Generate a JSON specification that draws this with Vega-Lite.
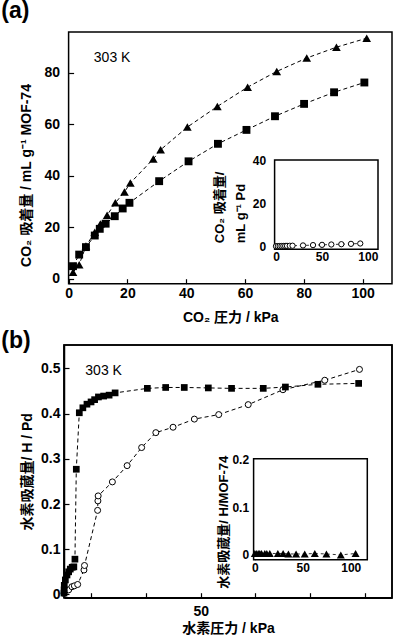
{
  "$schema": "https://vega.github.io/schema/vega-lite/v6.json",
  "padding": 0,
  "spacing": 4,
  "config": {
    "font": "Liberation Sans, Noto Sans CJK JP, sans-serif",
    "view": {"stroke": null},
    "axis": {"grid": false, "domain": false, "tickColor": "black", "tickSize": -5, "tickWidth": 1.2, "labelColor": "black", "titleColor": "black", "labelFontWeight": "bold", "titleFontWeight": "bold", "labelFontSize": 14, "titleFontSize": 14, "labelFlush": false, "labelOverlap": false},
    "title": {"color": "black", "fontWeight": "bold", "fontSize": 23}
  },
  "datasets": {
    "co2_tri": [
      {"p": 1.5, "v": 2.5}, {"p": 3.6, "v": 5.5}, {"p": 5.9, "v": 12.7}, {"p": 8.9, "v": 18.1}, {"p": 10.8, "v": 21.3}, {"p": 13.1, "v": 24.7}, {"p": 15.9, "v": 29.5}, {"p": 19.0, "v": 33.7}, {"p": 21.0, "v": 37.2}, {"p": 28.8, "v": 46.5}, {"p": 31.3, "v": 50.1}, {"p": 40.4, "v": 58.9}, {"p": 50.6, "v": 66.9}, {"p": 60.9, "v": 74.4}, {"p": 70.8, "v": 80.5}, {"p": 81.0, "v": 85.7}, {"p": 91.1, "v": 89.9}, {"p": 101.4, "v": 93.4}
    ],
    "co2_sq": [
      {"p": 1.5, "v": 4.9}, {"p": 3.6, "v": 9.4}, {"p": 5.9, "v": 12.3}, {"p": 8.9, "v": 16.8}, {"p": 10.6, "v": 19.4}, {"p": 12.6, "v": 21.4}, {"p": 15.7, "v": 24.3}, {"p": 18.4, "v": 27.3}, {"p": 20.7, "v": 29.5}, {"p": 30.8, "v": 37.9}, {"p": 40.8, "v": 45.6}, {"p": 50.8, "v": 52.4}, {"p": 60.5, "v": 57.8}, {"p": 70.2, "v": 63.1}, {"p": 80.1, "v": 67.9}, {"p": 90.3, "v": 72.4}, {"p": 100.6, "v": 76.2}
    ],
    "co2_pd": [
      {"p": 0, "v": 0}, {"p": 2, "v": 0.02}, {"p": 4, "v": 0.05}, {"p": 6, "v": 0.07}, {"p": 8, "v": 0.1}, {"p": 10, "v": 0.12}, {"p": 12, "v": 0.15}, {"p": 15, "v": 0.18}, {"p": 18, "v": 0.22}, {"p": 29.4, "v": 0.35}, {"p": 40.3, "v": 0.5}, {"p": 50.1, "v": 0.62}, {"p": 60.2, "v": 0.78}, {"p": 71.1, "v": 0.92}, {"p": 81.6, "v": 1.08}, {"p": 91.7, "v": 1.25}
    ],
    "h2_pd_a": [
      {"p": 0, "v": 0.003}, {"p": 0.05, "v": 0.01}, {"p": 0.1, "v": 0.02}, {"p": 0.5, "v": 0.032}, {"p": 1.1, "v": 0.043}, {"p": 1.7, "v": 0.05}, {"p": 2.3, "v": 0.056}, {"p": 3.0, "v": 0.06}, {"p": 3.6, "v": 0.061}, {"p": 4.0, "v": 0.078}, {"p": 4.5, "v": 0.277}, {"p": 5.6, "v": 0.402}, {"p": 6.9, "v": 0.413}, {"p": 8.4, "v": 0.421}, {"p": 9.9, "v": 0.426}, {"p": 11.2, "v": 0.431}, {"p": 12.6, "v": 0.437}, {"p": 14.5, "v": 0.439}, {"p": 16.5, "v": 0.441}, {"p": 18.7, "v": 0.446}, {"p": 30.5, "v": 0.456}, {"p": 37.2, "v": 0.458}, {"p": 44.0, "v": 0.458}, {"p": 52.8, "v": 0.457}, {"p": 61.3, "v": 0.456}, {"p": 72.9, "v": 0.456}, {"p": 81.0, "v": 0.459}, {"p": 92.9, "v": 0.465}, {"p": 107.8, "v": 0.467}
    ],
    "h2_pd_b": [
      {"p": 0, "v": 0.002}, {"p": 1.7, "v": 0.01}, {"p": 2.9, "v": 0.017}, {"p": 3.8, "v": 0.019}, {"p": 5.0, "v": 0.022}, {"p": 7.3, "v": 0.054}, {"p": 7.5, "v": 0.064}, {"p": 12.3, "v": 0.186}, {"p": 12.4, "v": 0.207}, {"p": 12.5, "v": 0.218}, {"p": 17.7, "v": 0.249}, {"p": 23.1, "v": 0.285}, {"p": 28.4, "v": 0.325}, {"p": 33.6, "v": 0.358}, {"p": 39.9, "v": 0.37}, {"p": 47.7, "v": 0.388}, {"p": 56.6, "v": 0.398}, {"p": 67.4, "v": 0.42}, {"p": 80.1, "v": 0.453}, {"p": 95.4, "v": 0.474}, {"p": 108.1, "v": 0.498}
    ],
    "h2_mof": [
      {"p": 0, "v": 0.003}, {"p": 1.5, "v": 0.003}, {"p": 3.5, "v": 0.003}, {"p": 5.2, "v": 0.003}, {"p": 7, "v": 0.003}, {"p": 10.4, "v": 0.003}, {"p": 12.5, "v": 0.003}, {"p": 15.6, "v": 0.003}, {"p": 24, "v": 0.003}, {"p": 29.5, "v": 0.003}, {"p": 35, "v": 0.002}, {"p": 43, "v": 0.002}, {"p": 52, "v": 0.002}, {"p": 62.5, "v": 0.003}, {"p": 74.6, "v": 0.002}, {"p": 89.6, "v": 0.0}, {"p": 105, "v": 0.003}
    ]
  },
  "vconcat": [
    {
      "width": 328,
      "height": 251.7,
      "title": {"text": "(a)", "anchor": "start", "frame": "group", "dx": -62.7, "offset": 8},
      "resolve": {"scale": {"x": "independent", "y": "independent"}},
      "layer": [
        {
          "layer": [
            {
              "data": {"values": [{"id": 1}]},
              "mark": {"type": "rect", "fill": "transparent", "stroke": "black", "strokeWidth": 1.5},
              "encoding": {
                "x": {"datum": 0, "type": "quantitative", "scale": {"domain": [0, 110], "range": [4.6, 328], "nice": false, "zero": false},
                  "axis": {"values": [0, 10, 20, 30, 40, 50, 60, 70, 80, 90, 100], "labelExpr": "datum.value % 20 === 0 ? datum.label : ''", "labelOverlap": false, "title": "CO₂ 圧力 / kPa", "labelPadding": 8, "titlePadding": 10}},
                "x2": {"datum": 110},
                "y": {"datum": -1.9, "type": "quantitative", "scale": {"domain": [-1.9, 95.8], "nice": false, "zero": false},
                  "axis": {"values": [0, 10, 20, 30, 40, 50, 60, 70, 80, 90], "labelExpr": "datum.value % 20 === 0 ? datum.label : ''", "labelOverlap": false, "title": "CO₂ 吸着量 / mL g⁻¹ MOF-74", "offset": -4.6, "labelPadding": 14, "titlePadding": 11, "titleY": 143}},
                "y2": {"datum": 95.8}
              }
            },
            {
              "data": {"name": "co2_tri"},
              "mark": {"type": "line", "color": "black", "strokeWidth": 1, "strokeDash": [4, 3]},
              "encoding": {
                "x": {"field": "p", "type": "quantitative", "scale": {"domain": [0, 110], "range": [4.6, 328], "nice": false, "zero": false}},
                "y": {"field": "v", "type": "quantitative", "scale": {"domain": [-1.9, 95.8], "nice": false, "zero": false}}
              }
            },
            {
              "data": {"name": "co2_sq"},
              "mark": {"type": "line", "color": "black", "strokeWidth": 1, "strokeDash": [4, 3]},
              "encoding": {
                "x": {"field": "p", "type": "quantitative", "scale": {"domain": [0, 110], "range": [4.6, 328], "nice": false, "zero": false}},
                "y": {"field": "v", "type": "quantitative", "scale": {"domain": [-1.9, 95.8], "nice": false, "zero": false}}
              }
            },
            {
              "data": {"name": "co2_tri"},
              "mark": {"type": "point", "shape": "triangle-up", "filled": true, "color": "black", "size": 75, "opacity": 1},
              "encoding": {
                "x": {"field": "p", "type": "quantitative", "scale": {"domain": [0, 110], "range": [4.6, 328], "nice": false, "zero": false}},
                "y": {"field": "v", "type": "quantitative", "scale": {"domain": [-1.9, 95.8], "nice": false, "zero": false}}
              }
            },
            {
              "data": {"name": "co2_sq"},
              "mark": {"type": "point", "shape": "square", "filled": true, "color": "black", "size": 62, "opacity": 1},
              "encoding": {
                "x": {"field": "p", "type": "quantitative", "scale": {"domain": [0, 110], "range": [4.6, 328], "nice": false, "zero": false}},
                "y": {"field": "v", "type": "quantitative", "scale": {"domain": [-1.9, 95.8], "nice": false, "zero": false}}
              }
            },
            {
              "data": {"values": [{"t": "303 K"}]},
              "mark": {"type": "text", "fontSize": 14, "color": "black", "align": "center", "baseline": "middle", "fontWeight": "normal"},
              "encoding": {
                "text": {"field": "t"},
                "x": {"datum": 14.8, "type": "quantitative", "scale": {"domain": [0, 110], "range": [4.6, 328], "nice": false, "zero": false}},
                "y": {"datum": 85.7, "type": "quantitative", "scale": {"domain": [-1.9, 95.8], "nice": false, "zero": false}}
              }
            }
          ]
        },
        {
          "layer": [
            {
              "data": {"values": [{"id": 1}]},
              "mark": {"type": "rect", "fill": "white", "stroke": "black", "strokeWidth": 1.5},
              "encoding": {
                "x": {"datum": -1.5, "type": "quantitative", "scale": {"domain": [-1.5, 111], "range": [210.6, 314], "nice": false, "zero": false},
                  "axis": {"orient": "bottom", "values": [0, 50, 100], "labelOverlap": false, "offset": -34.5, "title": null, "labelFontSize": 12, "labelPadding": 7}},
                "x2": {"datum": 111},
                "y": {"datum": -1.4, "type": "quantitative", "scale": {"domain": [-1.4, 40], "range": [217.2, 128], "nice": false, "zero": false},
                  "axis": {"orient": "left", "values": [0, 10, 20, 30, 40], "labelExpr": "datum.value % 20 === 0 ? datum.label : ''", "labelOverlap": false, "offset": -210.6, "labelFontSize": 12, "labelPadding": 14, "title": ["CO₂ 吸着量/", "mL g⁻¹ Pd"], "titleFontSize": 13, "titlePadding": 5, "titleAlign": "left", "titleY": 210.7, "titleLineHeight": 21}},
                "y2": {"datum": 40}
              }
            },
            {
              "data": {"name": "co2_pd"},
              "mark": {"type": "line", "color": "black", "strokeWidth": 0.8, "strokeDash": [3, 3]},
              "encoding": {
                "x": {"field": "p", "type": "quantitative", "scale": {"domain": [-1.5, 111], "range": [210.6, 314], "nice": false, "zero": false}},
                "y": {"field": "v", "type": "quantitative", "scale": {"domain": [-1.4, 40], "range": [217.2, 128], "nice": false, "zero": false}}
              }
            },
            {
              "data": {"name": "co2_pd"},
              "mark": {"type": "point", "shape": "circle", "filled": false, "color": "black", "fill": "white", "strokeWidth": 1, "size": 28, "opacity": 1},
              "encoding": {
                "x": {"field": "p", "type": "quantitative", "scale": {"domain": [-1.5, 111], "range": [210.6, 314], "nice": false, "zero": false}},
                "y": {"field": "v", "type": "quantitative", "scale": {"domain": [-1.4, 40], "range": [217.2, 128], "nice": false, "zero": false}}
              }
            }
          ]
        }
      ]
    },
    {
      "width": 328,
      "height": 252.7,
      "title": {"text": "(b)", "anchor": "start", "frame": "group", "dx": -62.7, "offset": -9},
      "view": {"stroke": "black", "strokeWidth": 1.5},
      "resolve": {"scale": {"x": "independent", "y": "independent"}},
      "layer": [
        {
          "layer": [
            {
              "data": {"values": [{"id": 2}]},
              "mark": {"type": "rect", "fill": "transparent", "stroke": "black", "strokeWidth": 1.5},
              "encoding": {
                "x": {"datum": 0, "type": "quantitative", "scale": {"domain": [0, 120], "range": [0, 328], "nice": false, "zero": false},
                  "axis": {"values": [50, 10, 100, 20, 30, 40, 60, 70, 80, 90, 110], "labelExpr": "datum.value % 50 === 0 ? datum.label : ''", "labelOverlap": false, "title": "水素圧力 / kPa", "labelPadding": 12, "titlePadding": 3, "domain": true, "domainColor": "black", "domainWidth": 1.5}},
                "x2": {"datum": 120},
                "y": {"datum": -0.0073, "type": "quantitative", "scale": {"domain": [-0.0073, 0.552], "range": [252.7, 0], "nice": false, "zero": false},
                  "axis": {"values": [0, 0.05, 0.1, 0.15, 0.2, 0.25, 0.3, 0.35, 0.4, 0.45, 0.5], "labelExpr": "datum.value == 0 ? '0' : (abs(datum.value * 10 - round(datum.value * 10)) < 0.001 ? format(datum.value, '.1f') : '')", "labelOverlap": false, "title": "水素吸蔵量/ H / Pd", "labelPadding": 9, "titlePadding": 6, "domain": true, "domainColor": "black", "domainWidth": 1.5}},
                "y2": {"datum": 0.552}
              }
            },
            {
              "data": {"name": "h2_pd_b"},
              "mark": {"type": "line", "color": "black", "strokeWidth": 1, "strokeDash": [4, 3]},
              "encoding": {
                "x": {"field": "p", "type": "quantitative", "scale": {"domain": [0, 120], "range": [0, 328], "nice": false, "zero": false}},
                "y": {"field": "v", "type": "quantitative", "scale": {"domain": [-0.0073, 0.552], "range": [252.7, 0], "nice": false, "zero": false}}
              }
            },
            {
              "data": {"name": "h2_pd_a"},
              "mark": {"type": "line", "color": "black", "strokeWidth": 1, "strokeDash": [4, 3]},
              "encoding": {
                "x": {"field": "p", "type": "quantitative", "scale": {"domain": [0, 120], "range": [0, 328], "nice": false, "zero": false}},
                "y": {"field": "v", "type": "quantitative", "scale": {"domain": [-0.0073, 0.552], "range": [252.7, 0], "nice": false, "zero": false}}
              }
            },
            {
              "data": {"name": "h2_pd_b"},
              "mark": {"type": "point", "shape": "circle", "filled": false, "color": "black", "fill": "white", "strokeWidth": 1, "size": 36, "opacity": 1},
              "encoding": {
                "x": {"field": "p", "type": "quantitative", "scale": {"domain": [0, 120], "range": [0, 328], "nice": false, "zero": false}},
                "y": {"field": "v", "type": "quantitative", "scale": {"domain": [-0.0073, 0.552], "range": [252.7, 0], "nice": false, "zero": false}}
              }
            },
            {
              "data": {"name": "h2_pd_a"},
              "mark": {"type": "point", "shape": "square", "filled": true, "color": "black", "size": 45, "opacity": 1},
              "encoding": {
                "x": {"field": "p", "type": "quantitative", "scale": {"domain": [0, 120], "range": [0, 328], "nice": false, "zero": false}},
                "y": {"field": "v", "type": "quantitative", "scale": {"domain": [-0.0073, 0.552], "range": [252.7, 0], "nice": false, "zero": false}}
              }
            },
            {
              "data": {"values": [{"t": "303 K"}]},
              "mark": {"type": "text", "fontSize": 14, "color": "black", "align": "center", "baseline": "middle", "fontWeight": "normal"},
              "encoding": {
                "text": {"field": "t"},
                "x": {"datum": 14.5, "type": "quantitative", "scale": {"domain": [0, 120], "range": [0, 328], "nice": false, "zero": false}},
                "y": {"datum": 0.495, "type": "quantitative", "scale": {"domain": [-0.0073, 0.552], "range": [252.7, 0], "nice": false, "zero": false}}
              }
            }
          ]
        },
        {
          "layer": [
            {
              "data": {"values": [{"id": 1}]},
              "mark": {"type": "rect", "fill": "white", "stroke": "black", "strokeWidth": 1.5},
              "encoding": {
                "x": {"datum": -1.25, "type": "quantitative", "scale": {"domain": [-1.25, 117.2], "range": [189.6, 303.3], "nice": false, "zero": false},
                  "axis": {"orient": "bottom", "values": [0, 50, 100], "labelOverlap": false, "offset": -38, "title": null, "labelFontSize": 12, "labelPadding": 8}},
                "x2": {"datum": 117.2},
                "y": {"datum": -0.01, "type": "quantitative", "scale": {"domain": [-0.01, 0.201], "range": [214.7, 113.7], "nice": false, "zero": false},
                  "axis": {"orient": "left", "values": [0, 0.05, 0.1, 0.15, 0.2], "labelExpr": "datum.value == 0 ? '0' : (abs(datum.value * 10 - round(datum.value * 10)) < 0.001 ? format(datum.value, '.1f') : '')", "labelOverlap": false, "offset": -189.6, "labelFontSize": 12, "labelPadding": 10, "title": "水素吸蔵量/ H/MOF-74", "titleFontSize": 13, "titlePadding": 1, "titleY": 176.7}},
                "y2": {"datum": 0.201}
              }
            },
            {
              "data": {"name": "h2_mof"},
              "mark": {"type": "line", "color": "black", "strokeWidth": 0.8, "strokeDash": [3, 3]},
              "encoding": {
                "x": {"field": "p", "type": "quantitative", "scale": {"domain": [-1.25, 117.2], "range": [189.6, 303.3], "nice": false, "zero": false}},
                "y": {"field": "v", "type": "quantitative", "scale": {"domain": [-0.01, 0.201], "range": [214.7, 113.7], "nice": false, "zero": false}}
              }
            },
            {
              "data": {"name": "h2_mof"},
              "mark": {"type": "point", "shape": "triangle-up", "filled": true, "color": "black", "size": 64, "opacity": 1},
              "encoding": {
                "x": {"field": "p", "type": "quantitative", "scale": {"domain": [-1.25, 117.2], "range": [189.6, 303.3], "nice": false, "zero": false}},
                "y": {"field": "v", "type": "quantitative", "scale": {"domain": [-0.01, 0.201], "range": [214.7, 113.7], "nice": false, "zero": false}}
              }
            }
          ]
        }
      ]
    }
  ]
}
